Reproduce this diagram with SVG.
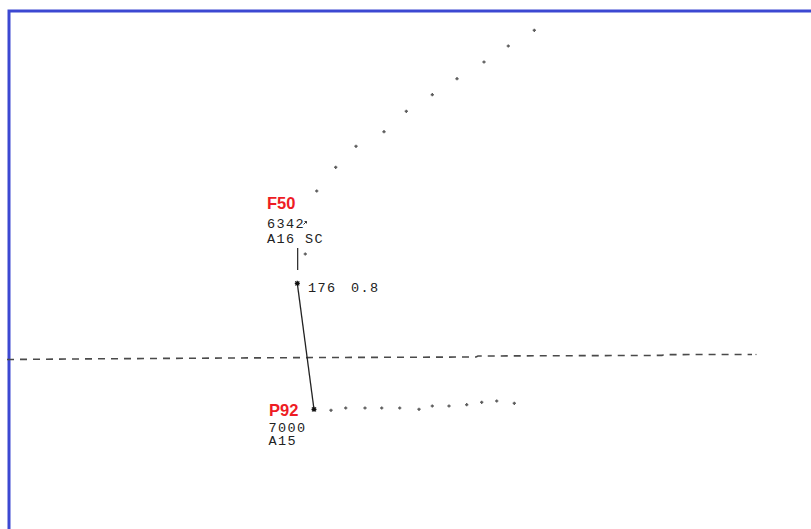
<svg xmlns="http://www.w3.org/2000/svg" width="811" height="529" viewBox="0 0 811 529">
  <defs>
    <style>
      .cs { font-family: "Liberation Sans", Arial, sans-serif; font-weight: bold; font-size: 16.5px; fill: #ee1c24; }
      .dt { font-family: "Liberation Mono", "DejaVu Sans Mono", monospace; font-size: 13.5px; letter-spacing: 1.4px; fill: #222; }
      .star { stroke: #111; stroke-width: 1.2; fill: none; }
    </style>
    <g id="dot"><path d="M-1.6,0 H1.6 M0,-1.6 V1.6" stroke="#5e5e5e" stroke-width="1.4"/></g>
    <g id="star"><path class="star" d="M-2.5,0 H2.5 M0,-2.5 V2.5 M-2,-2 L2,2 M-2,2 L2,-2"/></g>
  </defs>
  <rect width="811" height="529" fill="#ffffff"/>
  <path d="M9,529 V11 H811" fill="none" stroke="#3c48d2" stroke-width="3"/>

  <g id="boundary">
    <polyline points="7,359.5 100,358.8 300,357.6 476,357 478,356 662,355.4 664,354.6 752,354.5" fill="none" stroke="#4a4a4a" stroke-width="1.6" stroke-dasharray="7 6"/>
    <circle cx="756" cy="354.5" r="0.8" fill="#888"/>
  </g>

  <g id="history-F50">
    <use href="#dot" x="534.3" y="30.3"/>
    <use href="#dot" x="508.3" y="46"/>
    <use href="#dot" x="484" y="62"/>
    <use href="#dot" x="457" y="78.7"/>
    <use href="#dot" x="432.3" y="94.7"/>
    <use href="#dot" x="406.3" y="111.3"/>
    <use href="#dot" x="384" y="131.7"/>
    <use href="#dot" x="356" y="146.3"/>
    <use href="#dot" x="335.7" y="167.3"/>
    <use href="#dot" x="316.7" y="191"/>
    <use href="#dot" x="305.3" y="254"/>
  </g>

  <g id="history-P92">
    <use href="#dot" x="331" y="410.3"/>
    <use href="#dot" x="345.7" y="408"/>
    <use href="#dot" x="365" y="408"/>
    <use href="#dot" x="381.7" y="408"/>
    <use href="#dot" x="399.7" y="408"/>
    <use href="#dot" x="419" y="409.3"/>
    <use href="#dot" x="432.3" y="406"/>
    <use href="#dot" x="449" y="406"/>
    <use href="#dot" x="466.7" y="404.7"/>
    <use href="#dot" x="481.7" y="402.3"/>
    <use href="#dot" x="496.7" y="401"/>
    <use href="#dot" x="514.3" y="403.3"/>
  </g>

  <g id="connectors">
    <line x1="297.7" y1="248" x2="297.7" y2="270" stroke="#111" stroke-width="1.1"/>
    <line x1="297.3" y1="283.3" x2="314" y2="409.3" stroke="#222" stroke-width="1.3"/>
  </g>

  <g id="node-F50">
    <use href="#star" x="297.3" y="283.3"/>
    <text class="cs" x="267" y="208.5">F50</text>
    <text class="dt" x="267" y="228">6342</text>
    <path d="M303.5,224.5 L306.5,221.5 M304.5,221.5 H306.5 V223.5" stroke="#222" stroke-width="0.9" fill="none"/>
    <text class="dt" x="267" y="242.5">A16 SC</text>
    <text class="dt" x="308" y="291.5">176</text>
    <text class="dt" x="351" y="291.5">0.8</text>
  </g>

  <g id="node-P92">
    <use href="#star" x="314" y="409.3"/>
    <text class="cs" x="269" y="415.8">P92</text>
    <text class="dt" x="268.5" y="431.5">7000</text>
    <text class="dt" x="268.5" y="445">A15</text>
  </g>
</svg>
